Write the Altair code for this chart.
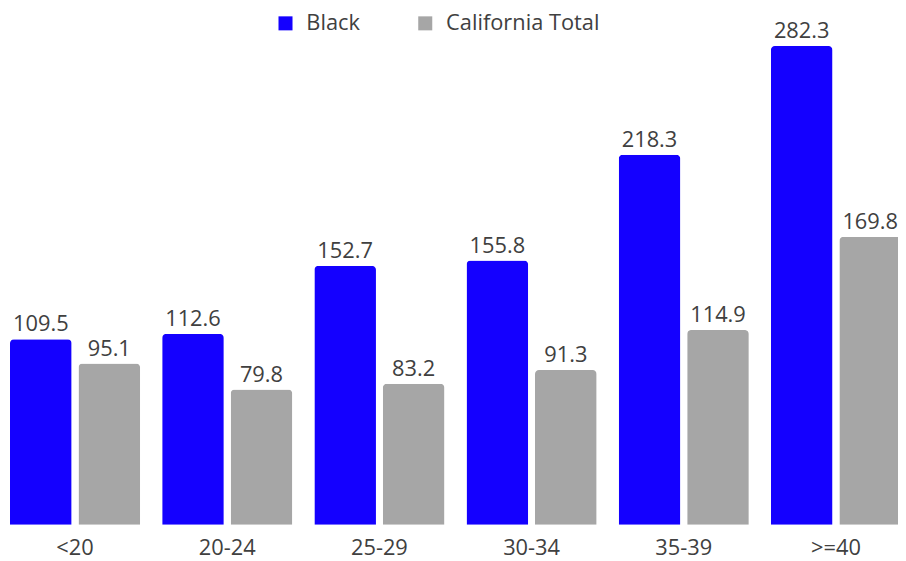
import altair as alt
import pandas as pd

ages = ["<20", "20-24", "25-29", "30-34", "35-39", ">=40"]
black = [109.5, 112.6, 152.7, 155.8, 218.3, 282.3]
ca_total = [95.1, 79.8, 83.2, 91.3, 114.9, 169.8]
series = ["Black", "California Total"]
colors = ["#1400FF", "#A6A6A6"]

rows = []
for a, b, c in zip(ages, black, ca_total):
    rows.append({"age": a, "group": series[0], "value": b})
    rows.append({"age": a, "group": series[1], "value": c})
df = pd.DataFrame(rows)

FONT = "Open Sans"
TXT = "#404040"
FS = 22

x = alt.X("age:N", sort=ages, title=None,
          scale=alt.Scale(paddingInner=0.145, paddingOuter=0.0, range=[0, 899]),
          axis=alt.Axis(labelAngle=0, domain=False, ticks=False, labelFont=FONT,
                        labelFontSize=FS, labelColor=TXT, labelPadding=13))
y = alt.Y("value:Q", title=None, scale=alt.Scale(domain=[0, 303.3], nice=False, zero=True),
          axis=None)
xo = alt.XOffset("group:N", sort=series, scale=alt.Scale(paddingInner=0.1))

base = alt.Chart(df).encode(x=x, y=y, xOffset=xo)

bars = base.mark_bar(cornerRadiusTopLeft=4, cornerRadiusTopRight=4).encode(
    color=alt.Color("group:N", sort=series,
                    scale=alt.Scale(domain=series, range=colors),
                    legend=alt.Legend(title=None, orient="none", legendX=267, legendY=2,
                                      direction="horizontal", symbolType="square",
                                      symbolSize=200, symbolStrokeWidth=0,
                                      labelFont=FONT, labelFontSize=FS, labelColor=TXT,
                                      columnPadding=54, labelOffset=10))
)

labels = base.mark_text(baseline="alphabetic", dy=-8, font=FONT, fontSize=FS, color=TXT).encode(
    text=alt.Text("value:Q", format=".1f")
)

chart = (bars + labels).properties(
    width=896, height=519,
    padding={"left": 2, "top": 0, "right": 0, "bottom": 36},
    autosize=alt.AutoSizeParams(type="none"),
).configure_view(stroke=None)

chart.save("out.html", embed_options={"renderer": "svg", "actions": False})
